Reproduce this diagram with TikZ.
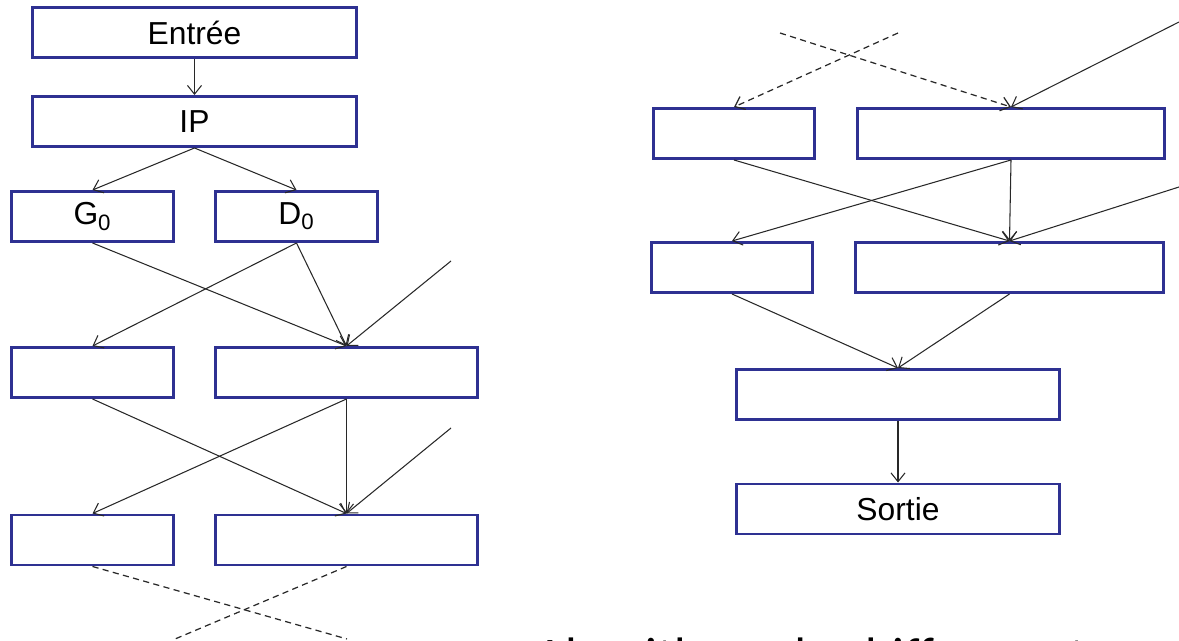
\documentclass[tikz,border=0pt]{standalone}
\usepackage{fontspec}
\setmainfont{Liberation Sans}
\newfontfamily\carlitofont{Carlito}
\usetikzlibrary{arrows.meta}
\definecolor{boxblue}{RGB}{46,49,146}
\definecolor{linegray}{RGB}{40,40,40}
\tikzset{
  box/.style={draw=boxblue, line width=1.7pt, fill=white, inner sep=0pt,
    minimum height=1.0cm, font=\fontsize{18.1}{20}\selectfont},
  conn/.style={draw=linegray, line width=0.6pt, -{Straight Barb[length=5pt,width=8pt]}},
  dashline/.style={draw=linegray, line width=0.7pt, dash pattern=on 3.5pt off 2.5pt},
}
\begin{document}
\begin{tikzpicture}[x=0.02cm,y=-0.02cm]
\useasboundingbox (0,0) rectangle (1179,641);
\clip (0,0) rectangle (1179,641);
% left column
\node[box, minimum width=6.48cm] (en) at (194.5,32.5) {Entrée};
\node[box, minimum width=6.48cm] (ip) at (194.5,121.5) {IP};
\node[box, minimum width=3.24cm] (g0) at (92.5,216.5) {G\textsubscript{0}};
\node[box, minimum width=3.24cm] (d0) at (296.5,216.5) {D\textsubscript{0}};
\node[box, minimum width=3.24cm] (l3) at (92.5,372.5) {};
\node[box, minimum width=5.24cm] (r3) at (346.5,372.5) {};
\node[box, minimum width=3.24cm] (l4) at (92.5,540) {};
\node[box, minimum width=5.24cm] (r4) at (346.5,540) {};
% right column
\node[box, minimum width=3.22cm] (a1) at (734,133.5) {};
\node[box, minimum width=6.14cm] (b1) at (1011,133.5) {};
\node[box, minimum width=3.22cm] (a2) at (732,267.5) {};
\node[box, minimum width=6.16cm] (b2) at (1009.5,267.5) {};
\node[box, minimum width=6.46cm] (c3) at (898,394.5) {};
\node[box, minimum width=6.46cm] (so) at (898,509) {Sortie};
% free ends
\coordinate (k1) at (451,261);
\coordinate (k2) at (451,428);
\coordinate (x1) at (347,639);
\coordinate (x2) at (175,639);
\coordinate (t1) at (780,33);
\coordinate (t2) at (898,33);
\coordinate (k3) at (1179,22);
\coordinate (k4) at (1179,187);
% left connectors
\draw[conn] (en.south) -- (ip.north);
\draw[conn] (ip.south) -- (g0.north);
\draw[conn] (ip.south) -- (d0.north);
\draw[conn] (g0.south) -- (r3.north);
\draw[conn] (d0.south) -- (l3.north);
\draw[conn] (d0.south) -- (r3.north);
\draw[conn] (k1) -- (r3.north);
\draw[conn] (l3.south) -- (r4.north);
\draw[conn] (r3.south) -- (l4.north);
\draw[conn] (r3.south) -- (r4.north);
\draw[conn] (k2) -- (r4.north);
\draw[dashline] (l4.south) -- (x1);
\draw[dashline] (r4.south) -- (x2);
% right connectors
\draw[dashline, -{Straight Barb[length=5pt,width=8pt]}] (t1) -- (b1.north);
\draw[dashline, -{Straight Barb[length=5pt,width=8pt]}] (t2) -- (a1.north);
\draw[conn] (k3) -- (b1.north);
\draw[conn] (a1.south) -- (b2.north);
\draw[conn] (b1.south) -- (a2.north);
\draw[conn] (b1.south) -- (b2.north);
\draw[conn] (k4) -- (b2.north);
\draw[conn] (a2.south) -- (c3.north);
\draw[conn] (b2.south) -- (c3.north);
\draw[conn] (c3.south) -- (so.north);
% caption, cut off by the lower edge as in the reference
\node[anchor=base west, inner sep=0pt, font=\carlitofont\fontsize{29.2}{32}\selectfont] (cap) at (535,673) {Algorithme de chiffrement};
\end{tikzpicture}
\end{document}
